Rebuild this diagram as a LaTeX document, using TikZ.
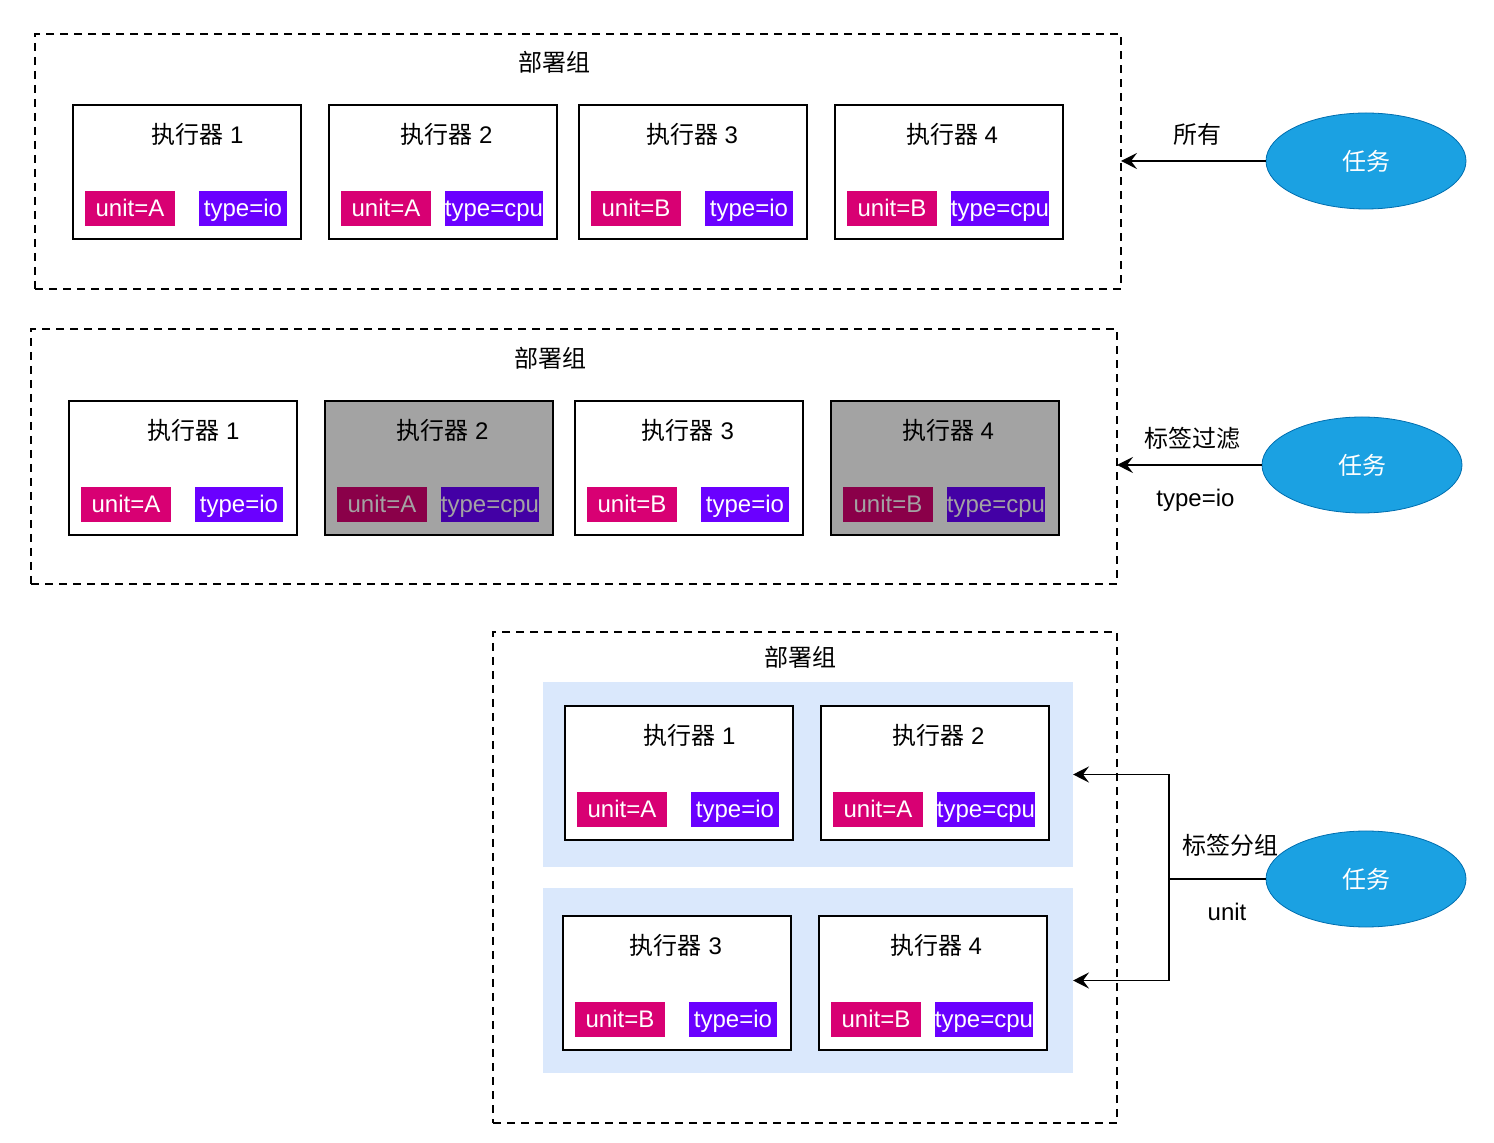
\documentclass[tikz,border=0pt]{standalone}
\usepackage{fontspec}
\setmainfont{Liberation Sans}
\newfontfamily\cjk{Noto Sans CJK SC}
\usepackage{xcolor}
\usetikzlibrary{shapes.geometric,arrows.meta,positioning}

\definecolor{unitc}{HTML}{D80073}
\definecolor{typec}{HTML}{6A00FF}
\definecolor{unitd}{HTML}{8A0049}
\definecolor{typed}{HTML}{4300A5}
\definecolor{greyd}{HTML}{A3A3A3}
\definecolor{grpblue}{HTML}{DAE8FC}
\definecolor{taskf}{HTML}{1BA1E2}
\definecolor{taskd}{HTML}{006EAF}

% executor box: name, placement, number, unit, type, suffix (d = filtered out)
\newcommand{\executor}[6]{%
  \edef\exshift{\ifcase#3\or5.25\or1.75\or-0.5\or1.5\fi}%
  \node[ex#6,#2] (#1) {};
  \node[txt,below=14.5pt of #1.north,xshift=\exshift pt,anchor=center] (#1n) {{\cjk 执行器} #3};
  \node[ux#6,above right=6.5pt and 6pt of #1.south west] (#1u) {unit=#4};
  \node[tx#6,above left=6.5pt and 7pt of #1.south east] (#1t) {type=#5};
}

\begin{document}
\begin{tikzpicture}[
  x=0.5pt,y=-0.5pt,
  txt/.style={font=\fontsize{12}{14}\selectfont,inner sep=0pt},
  grp/.style={draw,line width=0.8pt,dash pattern=on 4pt off 3pt,inner sep=0pt,outer sep=0pt},
  ex/.style={draw,line width=0.8pt,fill=white,minimum width=114pt,minimum height=67pt,inner sep=0pt,outer sep=0pt},
  exd/.style={ex,fill=greyd},
  tag/.style={txt,minimum height=17.5pt,inner xsep=0pt,outer sep=0pt,text height=8.6pt,text depth=0.9pt,text=white},
  ux/.style={tag,fill=unitc,minimum width=45pt},
  uxd/.style={ux,fill=unitd,text=greyd},
  tx/.style={tag,fill=typec,minimum width=44pt},
  txd/.style={tx,fill=typed,text=greyd},
  blk/.style={fill=grpblue,minimum width=265pt,minimum height=92.5pt,inner sep=0pt,outer sep=0pt},
  task/.style={ellipse,draw=taskd,fill=taskf,minimum width=100pt,minimum height=48pt,inner sep=0pt,outer sep=0pt,text=white,font=\fontsize{12}{14}\selectfont},
  arr/.style={line width=0.8pt,-{Stealth[length=8pt,width=8pt,inset=3pt]}}
]
\useasboundingbox (0,0) rectangle (1494,1143);

% group 1: all executors
\node[grp,minimum width=543pt,minimum height=127.5pt,anchor=north west] (g1) at (35,34) {};
\node[txt,below=14pt of g1.north,xshift=-12pt,anchor=center] (g1n) {\cjk 部署组};
\executor{a1}{below right=35.5pt and 19pt of g1.north west}{1}{A}{io}{}
\executor{a2}{right=14pt of a1}{2}{A}{cpu}{}
\executor{a3}{right=11pt of a2}{3}{B}{io}{}
\executor{a4}{right=14pt of a3}{4}{B}{cpu}{}

% group 2: label filter
\node[grp,minimum width=543pt,minimum height=127.5pt,below=20pt of g1,xshift=-2pt] (g2) {};
\node[txt,below=14.5pt of g2.north,xshift=-12pt,anchor=center] (g2n) {\cjk 部署组};
\executor{b1}{below right=36pt and 19pt of g2.north west}{1}{A}{io}{}
\executor{b2}{right=14pt of b1}{2}{A}{cpu}{d}
\executor{b3}{right=11pt of b2}{3}{B}{io}{}
\executor{b4}{right=14pt of b3}{4}{B}{cpu}{d}

% group 3: label grouping
\node[grp,minimum width=312pt,minimum height=245.5pt,below left=24pt and 0pt of g2.south east] (g3) {};
\node[txt,below=12.5pt of g3.north,xshift=-2.5pt,anchor=center] (g3n) {\cjk 部署组};
\node[blk,below right=25pt and 25pt of g3.north west] (l1) {};
\node[blk,below=10.5pt of l1] (l2) {};
\executor{c1}{below right=12pt and 11pt of l1.north west}{1}{A}{io}{}
\executor{c2}{right=14pt of c1}{2}{A}{cpu}{}
\executor{c3}{below right=14pt and 10pt of l2.north west}{3}{B}{io}{}
\executor{c4}{right=14pt of c3}{4}{B}{cpu}{}

\node[task] (k1) at (1366,161) {\cjk 任务};
\node[task] (k2) at (1362,465) {\cjk 任务};
\node[task] (k3) at (1366,879) {\cjk 任务};

\draw[arr] (k1.west) -- (k1.west -| g1.east)
  node[midway,above=7.5pt,txt,xshift=1.75pt] (m1) {\cjk 所有};
\draw[arr] (k2.west) -- (k2.west -| g2.east)
  node[midway,above=7.5pt,txt,xshift=1.5pt] (m2) {\cjk 标签过滤}
  node[midway,below=11.5pt,txt,xshift=3pt] (m3) {type=io};
\coordinate[left=48.5pt of k3.west] (sp);
\draw[line width=0.8pt] (k3.west) -- (sp)
  node[midway,above=11pt,txt,xshift=6.25pt] (m4) {\cjk 标签分组}
  node[midway,below=11.5pt,txt,xshift=4.75pt] (m5) {unit};
\draw[arr] (sp) |- (l1.east);
\draw[arr] (sp) |- (l2.east);
\end{tikzpicture}
\end{document}
